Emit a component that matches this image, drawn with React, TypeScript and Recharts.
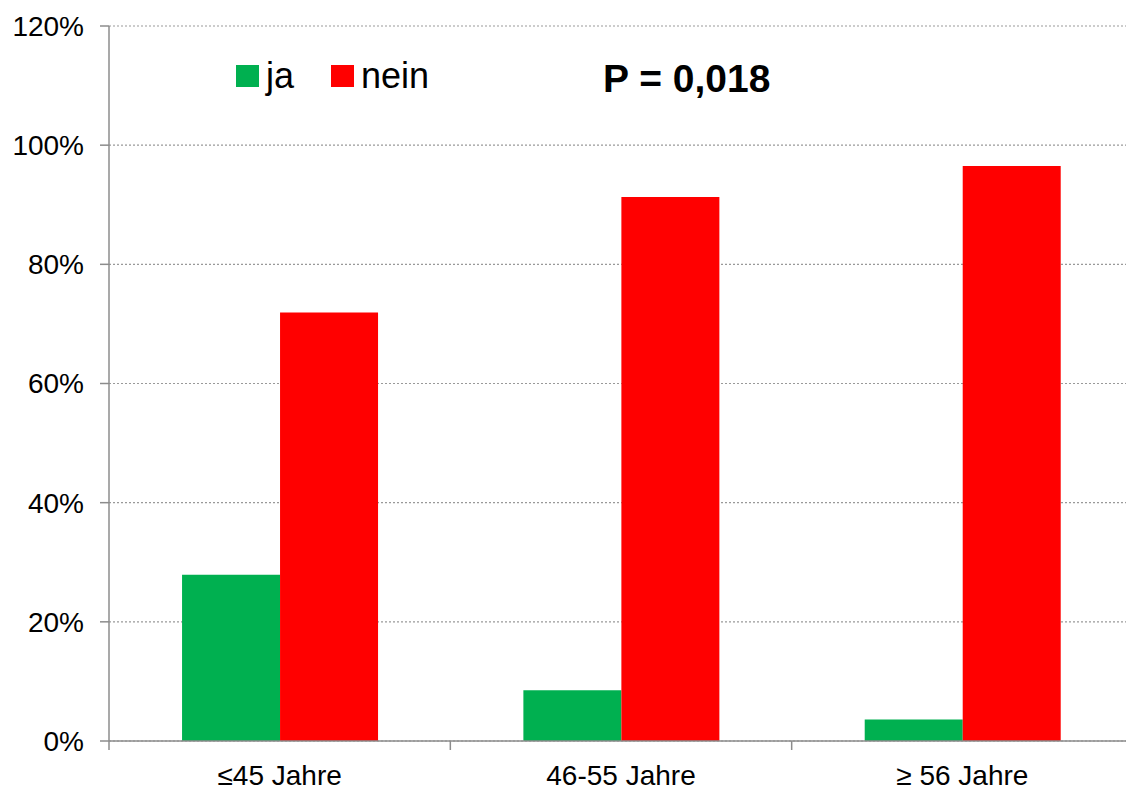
import { Bar, BarChart, CartesianGrid, Legend, XAxis, YAxis } from "recharts";

// Altersgruppen und Anteile (in %)
const categories = ["≤45 Jahre", "46-55 Jahre", "≥ 56 Jahre"];
const jaValues = [27.9, 8.5, 3.6];
const neinValues = [71.9, 91.3, 96.5];
const yTicks = [0, 20, 40, 60, 80, 100, 120];
const pValueLabel = "P = 0,018";

const FONT = '"Liberation Sans", Arial, sans-serif';
const GREEN = "#00B050";
const RED = "#FF0000";
const AXIS = "#8c8c8c";

const chartData = categories.map((name, i) => ({
  name,
  ja: jaValues[i],
  nein: neinValues[i],
}));

// x tick: label under the category, tick mark at the left category boundary
function CategoryTick(props: any) {
  const { x, y, payload } = props;
  const half = payload?.offset ?? 0;
  return (
    <g>
      <line x1={x - half} x2={x - half} y1={y} y2={y + 9} stroke={AXIS} strokeWidth={1.5} />
      <text x={x} y={y + 44} textAnchor="middle" fontFamily={FONT} fontSize={28} fill="#000">
        {payload.value}
      </text>
    </g>
  );
}

function LegendContent() {
  const items = [
    { label: "ja", color: GREEN },
    { label: "nein", color: RED },
  ];
  return (
    <div style={{ display: "flex", alignItems: "center", fontFamily: FONT, fontSize: 36 }}>
      {items.map((it) => (
        <div key={it.label} style={{ display: "flex", alignItems: "center", marginRight: 37 }}>
          <span style={{ width: 23, height: 22, background: it.color, display: "inline-block", marginRight: 7 }} />
          <span style={{ lineHeight: "40px" }}>{it.label}</span>
        </div>
      ))}
    </div>
  );
}

export default function App() {
  return (
    <div
      style={{
        position: "absolute",
        left: 0,
        top: 0,
        width: 1126,
        height: 790,
        overflow: "hidden",
        background: "#fff",
      }}
    >
      <BarChart
        width={1134}
        height={790}
        data={chartData}
        margin={{ top: 26, right: 1, bottom: 0, left: 0 }}
        barCategoryGap="21.4%"
        barGap={0}
      >
        <CartesianGrid
          horizontal
          vertical={false}
          stroke="#999"
          strokeDasharray="2 2"
          strokeWidth={1.2}
        />
        <XAxis
          dataKey="name"
          height={49}
          tickLine={false}
          tickSize={0}
          tickMargin={0}
          axisLine={{ stroke: AXIS, strokeWidth: 1.5 }}
          tick={<CategoryTick />}
          interval={0}
        />
        <YAxis
          width={109}
          domain={[0, 120]}
          ticks={yTicks}
          allowDataOverflow
          tickFormatter={(v: number) => `${v}%`}
          tickSize={9}
          tickMargin={16}
          tickLine={{ stroke: AXIS, strokeWidth: 1.5 }}
          axisLine={{ stroke: AXIS, strokeWidth: 1.5 }}
          tick={{ fontFamily: FONT, fontSize: 28, fill: "#000" }}
        />
        <Legend
          layout="horizontal"
          align="center"
          verticalAlign="middle"
          content={<LegendContent />}
          wrapperStyle={{ position: "absolute", left: 236, top: 56, width: "auto" }}
        />
        <Bar dataKey="ja" fill={GREEN} isAnimationActive={false} />
        <Bar dataKey="nein" fill={RED} isAnimationActive={false} />
      </BarChart>
      <div
        style={{
          position: "absolute",
          left: 603,
          top: 55,
          fontFamily: FONT,
          fontSize: 39,
          fontWeight: "bold",
          lineHeight: "48px",
          whiteSpace: "nowrap",
        }}
      >
        {pValueLabel}
      </div>
    </div>
  );
}
